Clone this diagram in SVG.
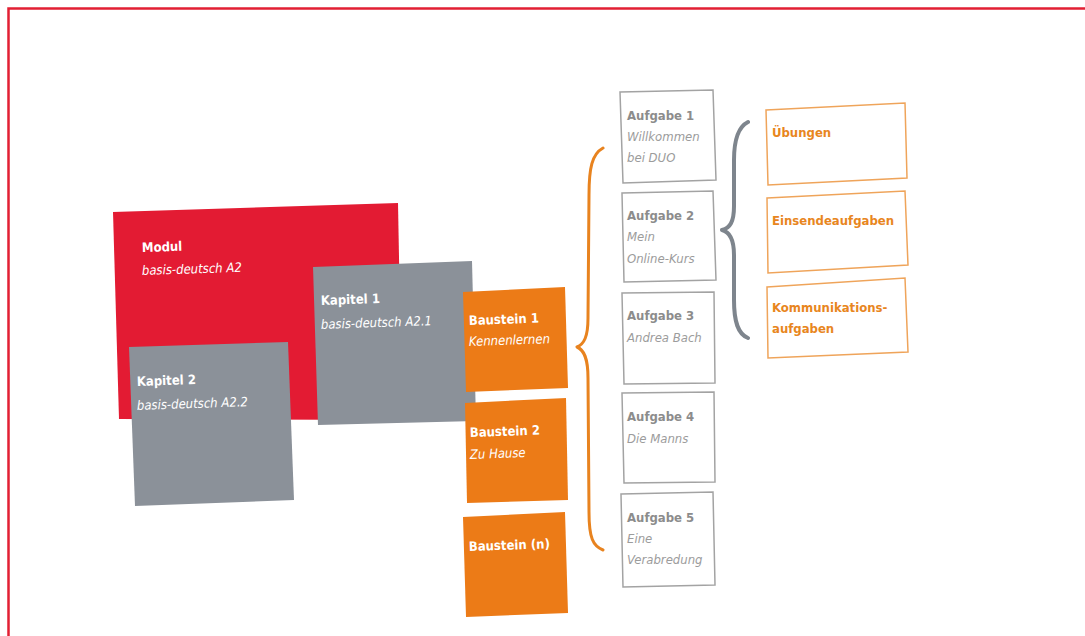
<svg xmlns="http://www.w3.org/2000/svg" width="1085" height="636" viewBox="0 0 1085 636">
<style>
.t{font-family:"Liberation Sans Narrow","DejaVu Sans Condensed","Liberation Sans",Arial,sans-serif;font-size:13px}
.b{font-weight:bold}
.i{font-style:italic}
.w{fill:#ffffff}
.g{fill:#8c8c8c}
.gi{fill:#9c9c9c}
.o{fill:#e8861e}
.red{fill:#e31b33}
.grey{fill:#8b9199}
.org{fill:#ec7b17}
.abox{fill:#ffffff;stroke:#a3a3a3;stroke-width:1.5}
.obox{fill:#ffffff;stroke:#efa45a;stroke-width:1.5}
.brace{fill:none;stroke-linecap:round;stroke-linejoin:round}
</style>
<rect width="1085" height="636" fill="#ffffff"/>
<rect x="8.5" y="8.5" width="1100" height="700" fill="none" stroke="#e21f33" stroke-width="2.5"/>

<g id="modul">
<polygon class="red" points="113,212 398,203 402,420 119,419"/>
<text class="t b w" x="142" y="252" transform="rotate(-1.8 142 252)">Modul</text>
<text class="t i w" x="142" y="275" transform="rotate(-1.8 142 275)">basis-deutsch A2</text>
</g>
<g id="kapitel1">
<polygon class="grey" points="313,267 472,261 476,421 318,425"/>
<text class="t b w" x="321" y="305" transform="rotate(-2 321 305)">Kapitel 1</text>
<text class="t i w" x="321" y="329" transform="rotate(-2 321 329)">basis-deutsch A2.1</text>
</g>
<g id="kapitel2">
<polygon class="grey" points="129,347 288,342 294,500 135,506"/>
<text class="t b w" x="137" y="386" transform="rotate(-2 137 386)">Kapitel 2</text>
<text class="t i w" x="137" y="410" transform="rotate(-2 137 410)">basis-deutsch A2.2</text>
</g>
<g id="baustein1">
<polygon class="org" points="463,292 565,287 568,388 466,392"/>
<text class="t b w" x="469" y="325" transform="rotate(-2 469 325)">Baustein 1</text>
<text class="t i w" x="469" y="346" transform="rotate(-2 469 346)">Kennenlernen</text>
</g>
<g id="baustein2">
<polygon class="org" points="465,403 566,398 568,500 467,503"/>
<text class="t b w" x="470" y="437" transform="rotate(-2 470 437)">Baustein 2</text>
<text class="t i w" x="470" y="459" transform="rotate(-2 470 459)">Zu Hause</text>
</g>
<g id="bausteinn">
<polygon class="org" points="463,517 565,512 568,613 466,617"/>
<text class="t b w" x="469" y="551" transform="rotate(-2 469 551)">Baustein (n)</text>
</g>

<g id="aufgabe1">
<polygon class="abox" points="620,92 713,90 716,180 623,183"/>
<text class="t b g" x="627" y="120">Aufgabe 1</text>
<text class="t i gi" x="627" y="141">Willkommen</text>
<text class="t i gi" x="627" y="162">bei DUO</text>
</g>
<g id="aufgabe2">
<polygon class="abox" points="622,193 713,191 716,280 624,282"/>
<text class="t b g" x="627" y="220">Aufgabe 2</text>
<text class="t i gi" x="627" y="241">Mein</text>
<text class="t i gi" x="627" y="263">Online-Kurs</text>
</g>
<g id="aufgabe3">
<polygon class="abox" points="622,293 714,292 715,383 624,384"/>
<text class="t b g" x="627" y="320">Aufgabe 3</text>
<text class="t i gi" x="627" y="342">Andrea Bach</text>
</g>
<g id="aufgabe4">
<polygon class="abox" points="622,393 714,392 715,482 624,483"/>
<text class="t b g" x="627" y="421">Aufgabe 4</text>
<text class="t i gi" x="627" y="443">Die Manns</text>
</g>
<g id="aufgabe5">
<polygon class="abox" points="621,494 713,492 715,585 623,587"/>
<text class="t b g" x="627" y="522">Aufgabe 5</text>
<text class="t i gi" x="627" y="543">Eine</text>
<text class="t i gi" x="627" y="564">Verabredung</text>
</g>

<g id="uebungen">
<polygon class="obox" points="766,110 905,103 907,178 768,185"/>
<text class="t b o" x="772" y="137">Übungen</text>
</g>
<g id="einsendeaufgaben">
<polygon class="obox" points="767,198 905,191 908,265 768,273"/>
<text class="t b o" x="772" y="225">Einsendeaufgaben</text>
</g>
<g id="kommunikation">
<polygon class="obox" points="767,287 905,278 908,352 768,358"/>
<text class="t b o" x="772" y="312">Kommunikations-</text>
<text class="t b o" x="772" y="333">aufgaben</text>
</g>

<g id="connectors">
<path class="brace" stroke="#e8831f" stroke-width="3" d="M603,148 C592,154 589,168 589,195 L588,318 C588,337 584,344 577,347 C584,350 588,358 588,378 L589,512 C589,538 593,546 603,550"/>
<path class="brace" stroke="#7e858d" stroke-width="4" d="M748,122 C738,127 734,140 734,160 L734,206 C734,222 730,228 722,230 C730,232 734,239 734,255 L734,300 C734,322 738,334 748,338"/>
</g>
</svg>
